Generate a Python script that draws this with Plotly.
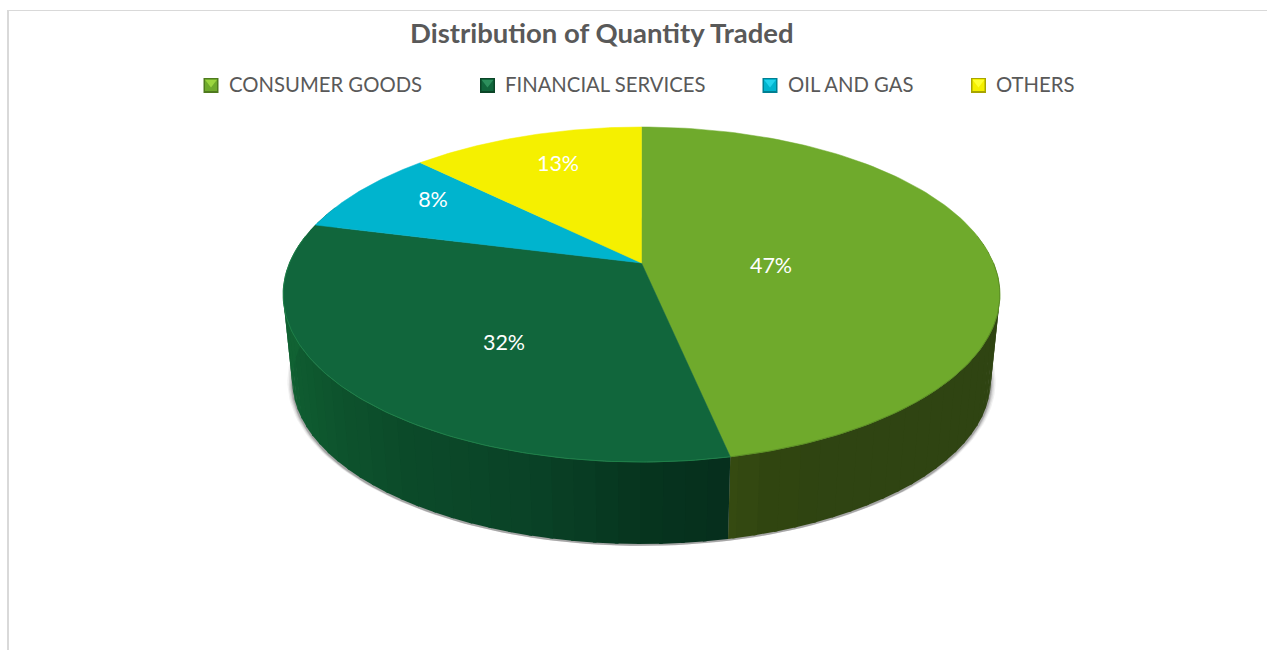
import numpy as np
import plotly.graph_objects as go

TITLE = "Distribution of Quantity Traded"
categories = ["CONSUMER GOODS", "FINANCIAL SERVICES", "OIL AND GAS", "OTHERS"]
shares = [46.7, 32.25, 8.45, 12.6]
face_colors = ["#6FAA2C", "#11663C", "#00B4CE", "#F5F000"]
bevel_colors = ["#9BD53F", "#2C8F5C", "#22D3EC", "#FFFF30"]
dark_colors = ["#4F7A1E", "#0B4527", "#007F92", "#A8A500"]

legend_marker_x = [211, 487.5, 770, 978.5]
legend_text_x = [229, 505, 788, 996]
label_x = [771, 504, 433, 558]
label_y = [267.5, 344.5, 201.5, 165.5]

# projection of the pie's circle to the page
CX, K = 641.5, 0.188
TOP = dict(cy=263.0, a=352.0, b=161.6)
BOT = dict(cy=350.0, a=343.0, b=157.6)

FONT = "Lato"
GREY = "#595959"


def project(theta_deg, plane, grow_x=1.0, grow_y=1.0):
    t = np.radians(np.asarray(theta_deg, dtype=float))
    d = 1 + K * np.cos(t)
    return (CX + grow_x * plane["a"] * np.sin(t) / d,
            plane["cy"] - grow_y * plane["b"] * np.cos(t) / d)


def hexrgb(h):
    return [int(h[i:i + 2], 16) for i in (1, 3, 5)]


wall_angles = [90, 155, 163, 168.0, 168.12, 180, 195, 215, 240, 260, 290]
wall_shades = ["#2F4412", "#2F4412", "#314610", "#364B12", "#062F1D",
               "#07351F", "#0A4327", "#0C4B2A", "#0F5A30", "#116233", "#126435"]


def wall_color(theta):
    rgb = [np.interp(theta, wall_angles, [hexrgb(s)[i] for s in wall_shades]) for i in range(3)]
    return "rgb(%d,%d,%d)" % tuple(rgb)


fig = go.Figure()


def poly(x, y, fill, line=None, width=0):
    fig.add_trace(go.Scatter(x=x, y=y, mode="lines", fill="toself", fillcolor=fill,
                             line=dict(color=line or fill, width=width),
                             hoverinfo="skip", showlegend=False))


edges = np.concatenate([[0], np.cumsum(shares)]) * 3.6

# soft shadow under the pie
whole = np.linspace(0, 360, 241)
for g, dy, alpha in ((1.014, 0.4, 0.07), (1.010, 0.8, 0.10), (1.006, 1.2, 0.14), (1.003, 1.6, 0.2)):
    sx, sy = project(whole, BOT, g, 1 + (g - 1) * 0.5)
    poly(sx, sy + dy, "rgba(50,50,50,%g)" % alpha)

# side wall, in narrow strips so its shade can change round the rim
split = edges[1]
steps = np.concatenate([np.arange(80, split, 3.0), [split],
                        np.arange(split + 3.0, 292, 3.0)])
for t0, t1 in zip(steps[:-1], steps[1:]):
    t1b = t1 if t1 == split else t1 + 0.5
    ta = np.linspace(t0, t1b, 5)
    xa, ya = project(ta, TOP)
    xb, yb = project(ta[::-1], BOT)
    c = wall_color((t0 + t1) / 2)
    poly(list(xa) + list(xb) + [xa[0]], list(ya) + list(yb) + [ya[0]], c)

# top face
cy0 = TOP["cy"]
for i in range(len(shares)):
    arc = np.linspace(edges[i], edges[i + 1], 121)
    x, y = project(arc, TOP)
    poly([CX] + list(x) + [CX], [cy0] + list(y) + [cy0], face_colors[i], face_colors[i], 0.5)

# light/dark bevel along the front rim
rim_colors = ["#5C8F25", "#1F8049"]
for i, c in enumerate(rim_colors):
    lo = max(edges[i], 90 if i == 0 else edges[i])
    hi = min(edges[i + 1], 280)
    x, y = project(np.linspace(lo, hi, 121), TOP)
    fig.add_trace(go.Scatter(x=x, y=y, mode="lines", line=dict(color=c, width=1.0),
                             hoverinfo="skip", showlegend=False))

# legend keys
fig.add_trace(go.Scatter(x=legend_marker_x, y=[85.5] * 4, mode="markers",
                         marker=dict(symbol="square", size=15, color=dark_colors,
                                     line=dict(width=0)),
                         hoverinfo="skip", showlegend=False))
fig.add_trace(go.Scatter(x=legend_marker_x, y=[85.0] * 4, mode="markers",
                         marker=dict(symbol="square", size=12, color=face_colors,
                                     line=dict(width=0)),
                         hoverinfo="skip", showlegend=False))
fig.add_trace(go.Scatter(x=legend_marker_x, y=[82.5] * 4, mode="markers",
                         marker=dict(symbol="triangle-down", size=10, color=bevel_colors,
                                     line=dict(width=0)),
                         hoverinfo="skip", showlegend=False))

# percent labels
labels = ["%d%%" % round(s) for s in shares]
fig.add_trace(go.Scatter(x=label_x, y=label_y, mode="text", text=labels,
                         textposition="middle center",
                         textfont=dict(family=FONT, size=21.5, color="white"),
                         hoverinfo="skip", showlegend=False))

ann = [dict(x=601.5, y=32, text="<b>%s</b>" % TITLE, showarrow=False,
            xanchor="center", yanchor="middle", xref="x", yref="y",
            font=dict(family=FONT, size=27.5, color=GREY))]
for name, x in zip(categories, legend_text_x):
    ann.append(dict(x=x, y=84, text=name, showarrow=False, xanchor="left", yanchor="middle",
                    xref="x", yref="y", xshift=-2,
                    font=dict(family=FONT, size=20.3, color=GREY)))

shapes = [
    dict(type="line", x0=8, x1=1267, y0=10.5, y1=10.5, line=dict(color="#D9D9D9", width=1)),
    dict(type="line", x0=8, x1=8, y0=10, y1=650, line=dict(color="#D9D9D9", width=2)),
]

fig.update_layout(
    width=1267, height=650, margin=dict(l=0, r=0, t=0, b=0),
    paper_bgcolor="white", plot_bgcolor="white",
    xaxis=dict(range=[0, 1267], visible=False, fixedrange=True),
    yaxis=dict(range=[650, 0], visible=False, fixedrange=True),
    annotations=ann, shapes=shapes, showlegend=False,
)
fig.write_html("out.html", config=dict(displayModeBar=False),
               post_script="document.body.style.margin='0';")
